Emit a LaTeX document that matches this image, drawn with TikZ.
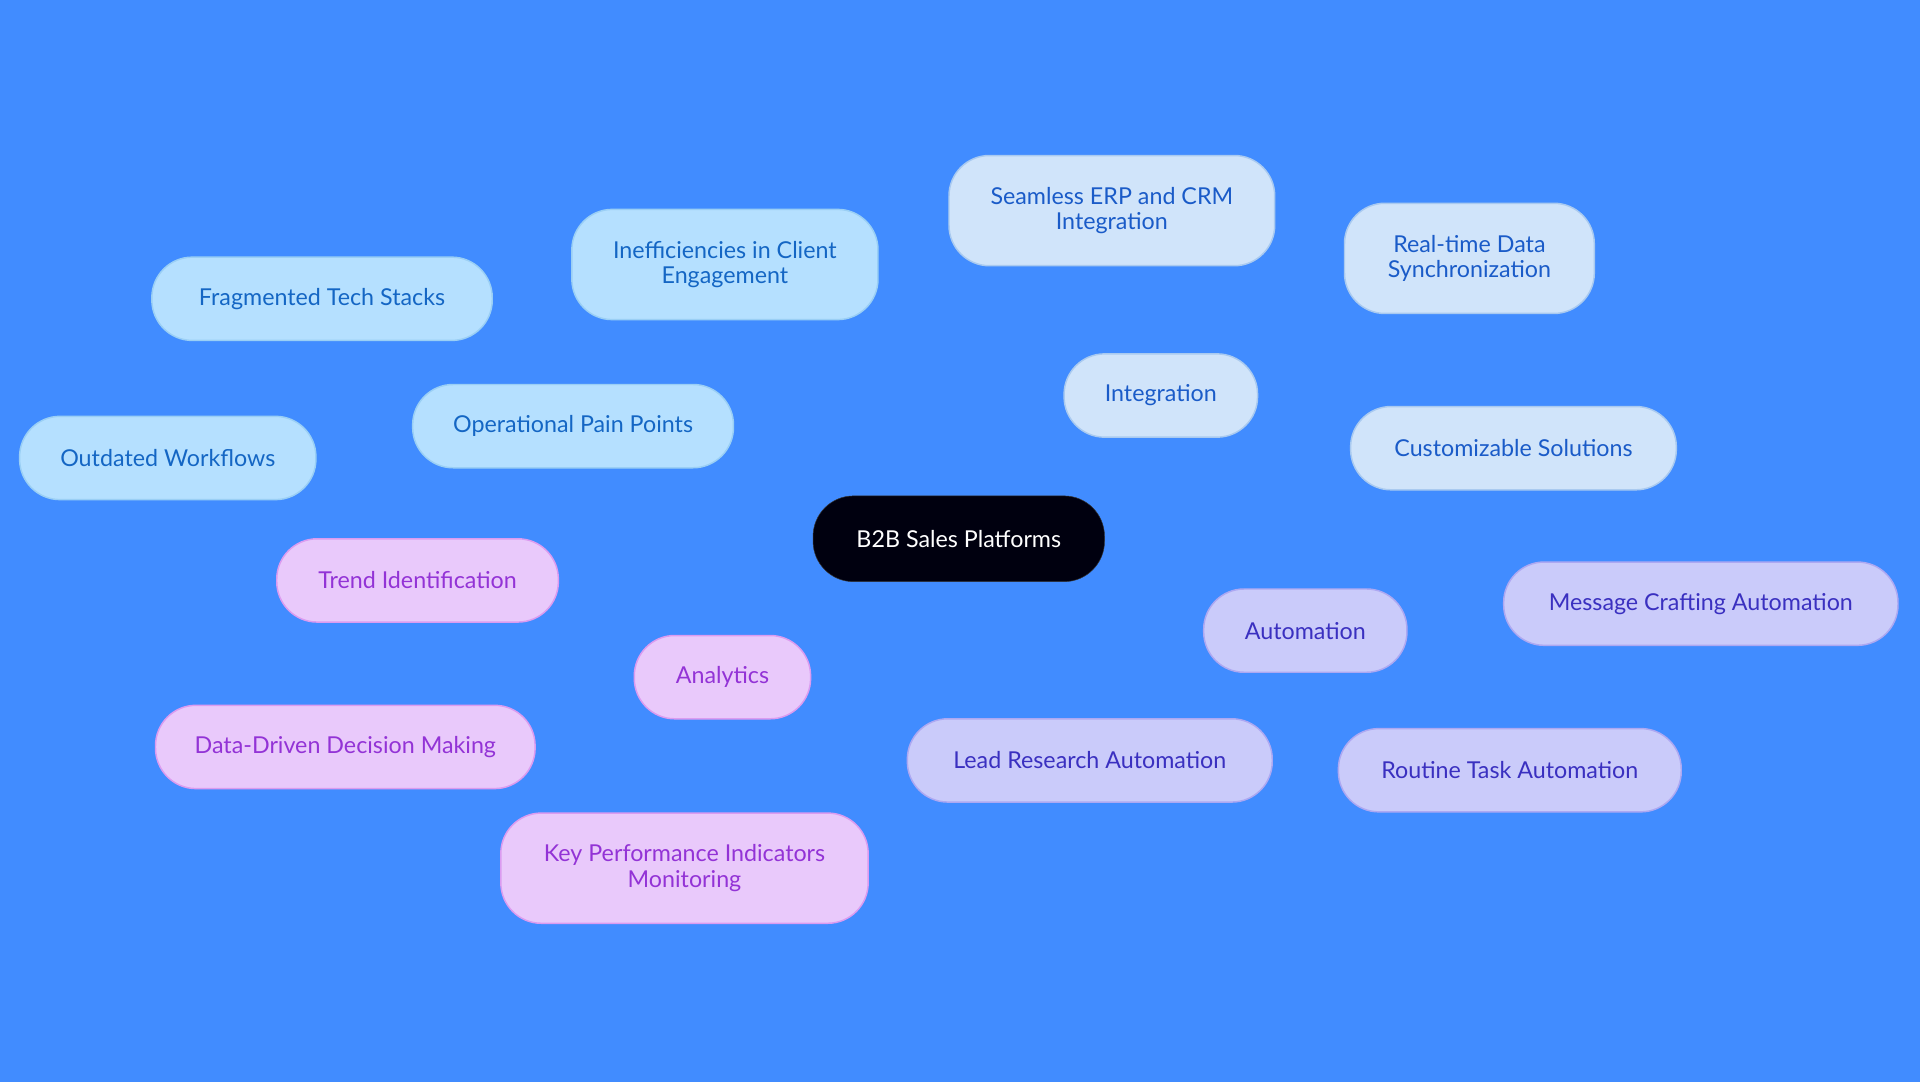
\documentclass[tikz,border=0pt]{standalone}
\usepackage{fontspec}
\setmainfont{Lato}
\usetikzlibrary{backgrounds}
\definecolor{bg}{HTML}{418CFF}
\definecolor{bfill}{HTML}{B5E0FF}\definecolor{btext}{HTML}{1466C4}\definecolor{bline}{HTML}{9ACFF5}
\definecolor{ifill}{HTML}{D0E4FA}\definecolor{itext}{HTML}{1A5BC8}\definecolor{iline}{HTML}{A9CAF0}
\definecolor{afill}{HTML}{CACBFA}\definecolor{atext}{HTML}{3A30C0}\definecolor{aline}{HTML}{ADA8F2}
\definecolor{nfill}{HTML}{E9C9FB}\definecolor{ntext}{HTML}{9333D6}\definecolor{nline}{HTML}{DB9BF0}
\begin{document}
\begin{tikzpicture}[x=1pt,y=-1pt,
 box/.style={rounded corners=33pt,draw=#1line,fill=#1fill,text=#1text,line width=1.2pt,align=center,inner sep=0pt,font=\fontsize{19}{21}\selectfont},
 e/.style={draw=#1line,line width=2pt}]
\fill[bg] (0,0) rectangle (1568,884);
\useasboundingbox (0,0) rectangle (1568,884);
\node[rounded corners=33pt,fill=black!90!blue!60!black,draw=black!80,text=white,minimum width=238pt,minimum height=70pt,font=\fontsize{19}{21}\selectfont] (c) at (783,440) {B2B Sales Platforms};
\node[box=b,minimum width=262pt,minimum height=68pt] (opp) at (468,348) {Operational Pain Points};
\node[box=b,minimum width=278pt,minimum height=68pt] (frag) at (263,244) {Fragmented Tech Stacks};
\node[box=b,minimum width=250pt,minimum height=90pt] (ineff) at (592,216) {Inefficiencies in Client\\Engagement};
\node[box=b,minimum width=242pt,minimum height=68pt] (out) at (137,374) {Outdated Workflows};
\node[box=i,minimum width=158pt,minimum height=68pt] (int) at (948,323) {Integration};
\node[box=i,minimum width=266pt,minimum height=90pt] (seam) at (908,172) {Seamless ERP and CRM\\Integration};
\node[box=i,minimum width=204pt,minimum height=90pt] (real) at (1200,211) {Real-time Data\\Synchronization};
\node[box=i,minimum width=266pt,minimum height=68pt] (cust) at (1236,366) {Customizable Solutions};
\node[box=a,minimum width=166pt,minimum height=68pt] (auto) at (1066,515) {Automation};
\node[box=a,minimum width=322pt,minimum height=68pt] (msg) at (1389,493) {Message Crafting Automation};
\node[box=a,minimum width=298pt,minimum height=68pt] (lead) at (890,621) {Lead Research Automation};
\node[box=a,minimum width=280pt,minimum height=68pt] (rout) at (1233,629) {Routine Task Automation};
\node[box=n,minimum width=144pt,minimum height=68pt] (ana) at (590,553) {Analytics};
\node[box=n,minimum width=230pt,minimum height=68pt] (trend) at (341,474) {Trend Identification};
\node[box=n,minimum width=310pt,minimum height=68pt] (data) at (282,610) {Data-Driven Decision Making};
\node[box=n,minimum width=300pt,minimum height=90pt] (kpi) at (559,709) {Key Performance Indicators\\Monitoring};
\begin{pgfonlayer}{background}
\draw[e=b] (c.center) -- (opp.center);
\draw[e=b] (opp.center) -- (frag.center);
\draw[e=b] (opp.center) -- (ineff.center);
\draw[e=b] (opp.center) -- (out.center);
\draw[e=i] (c.center) -- (int.center);
\draw[e=i] (int.center) -- (seam.center);
\draw[e=i] (int.center) -- (real.center);
\draw[e=i] (int.center) -- (cust.center);
\draw[e=a] (c.center) -- (auto.center);
\draw[e=a] (auto.center) -- (msg.center);
\draw[e=a] (auto.center) -- (lead.center);
\draw[e=a] (auto.center) -- (rout.center);
\draw[e=n] (c.center) -- (ana.center);
\draw[e=n] (ana.center) -- (trend.center);
\draw[e=n] (ana.center) -- (data.center);
\draw[e=n] (ana.center) -- (kpi.center);
\end{pgfonlayer}
\end{tikzpicture}
\end{document}
